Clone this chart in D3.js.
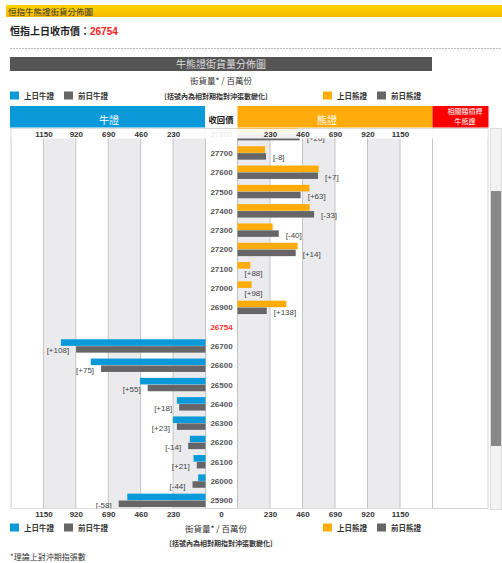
<!DOCTYPE html>
<html>
<head>
<meta charset="utf-8">
<script src="https://cdn.jsdelivr.net/npm/d3@7"></script>
<style>
  body { margin: 0; background: #fff; }
  text { font-family: "Noto Sans CJK TC", "Liberation Sans", sans-serif; }
  .num { font-family: "Liberation Sans", Arial, sans-serif; }
</style>
</head>
<body>
<div id="chart"></div>
<script>
// data
let closePrice = 26754
let bearStrikes = [27800, 27700, 27600, 27500, 27400, 27300, 27200, 27100, 27000, 26900]
let bearToday = [430, 195, 575, 509, 511, 249, 426, 91, 100, 346]
let bearPrevDay = [440, 202, 570, 447, 542, 292, 412, 0, 0, 207]
let bearChange = ["+20", "-8", "+7", "+63", "-33", "-40", "+14", "+88", "+98", "+138"]
let bullStrikes = [26700, 26600, 26500, 26400, 26300, 26200, 26100, 26000, 25900]
let bullToday = [1026, 814, 465, 203, 231, 111, 85, 52, 555]
let bullPrevDay = [918, 741, 410, 187, 203, 123, 62, 92, 616]
let bullChange = ["+108", "+75", "+55", "+18", "+23", "-14", "+21", "-44", "-58"]
let tickVals = [230, 460, 690, 920, 1150]
let maxVal = 1380

let blue = "#0a9ad9", orange = "#ffac0a", grey = "#666669", band = "#ebebee"

var width = 502, height = 563
var svg = d3.select("#chart").append("svg")
    .attr("width", width).attr("height", height)

// top title strip
var grad = svg.append("defs").append("linearGradient")
    .attr("id", "yel").attr("x1", 0).attr("x2", 0).attr("y1", 0).attr("y2", 1)
grad.append("stop").attr("offset", "0%").attr("stop-color", "#ffd400")
grad.append("stop").attr("offset", "100%").attr("stop-color", "#f2b800")
svg.append("rect").attr("x", 6).attr("y", 5).attr("width", 496).attr("height", 12).attr("fill", "url(#yel)")
svg.append("text").attr("x", 8).attr("y", 14.5).attr("font-size", 8.5).attr("fill", "#333")
    .text("恒指牛熊證街貨分佈圖")

var t = svg.append("text").attr("x", 10).attr("y", 35).attr("font-size", 10).attr("font-weight", "bold").attr("fill", "#222")
t.append("tspan").text("恒指上日收市價：")
t.append("tspan").attr("class", "num").attr("fill", "#ff2020").text(closePrice)

svg.append("line").attr("x1", 10).attr("x2", 502).attr("y1", 48.5).attr("y2", 48.5)
    .attr("stroke", "#bbb").attr("stroke-dasharray", "2,1")

// banner
svg.append("rect").attr("x", 10).attr("y", 57).attr("width", 422).attr("height", 14).attr("fill", "#555")
svg.append("text").attr("x", 221).attr("y", 67.5).attr("text-anchor", "middle").attr("font-size", 10)
    .attr("fill", "#ddd").text("牛熊證街貨量分佈圖")

function legendRow(yPos) {
    let items = [[10, blue, "上日牛證"], [64, grey, "前日牛證"], [323, orange, "上日熊證"], [377, grey, "前日熊證"]]
    items.forEach(d => {
        svg.append("rect").attr("x", d[0]).attr("y", yPos - 4.5).attr("width", 9).attr("height", 8).attr("fill", d[1])
        svg.append("text").attr("x", d[0] + 14).attr("y", yPos + 2.5).attr("font-size", 7.5)
            .attr("font-weight", "bold").attr("fill", "#333").text(d[2])
    })
}
svg.append("text").attr("x", 221).attr("y", 84).attr("text-anchor", "middle").attr("font-size", 8.5)
    .attr("fill", "#333").text("街貨量* / 百萬份")
legendRow(96)
svg.append("text").attr("x", 216).attr("y", 98.5).attr("text-anchor", "middle").attr("font-size", 7)
    .attr("font-weight", "bold").attr("fill", "#333").text("[括號內為相對期指對沖張數變化]")

// header boxes
svg.append("rect").attr("x", 10).attr("y", 106).attr("width", 195).attr("height", 21.5).attr("fill", blue)
svg.append("text").attr("x", 109).attr("y", 124).attr("text-anchor", "middle").attr("font-size", 10).attr("fill", "#fff").text("牛證")
svg.append("text").attr("x", 221).attr("y", 123).attr("text-anchor", "middle").attr("font-size", 8.3)
    .attr("font-weight", "bold").attr("fill", "#222").text("收回價")
svg.append("rect").attr("x", 237.5).attr("y", 106).attr("width", 195).attr("height", 21.5).attr("fill", orange)
svg.append("text").attr("x", 327).attr("y", 124).attr("text-anchor", "middle").attr("font-size", 10).attr("fill", "#fff").text("熊證")
svg.append("rect").attr("x", 432.5).attr("y", 106).attr("width", 56).attr("height", 21.5).attr("fill", "#ff0000")
svg.append("text").attr("x", 465).attr("y", 114).attr("text-anchor", "middle").attr("font-size", 7).attr("fill", "#fff").text("相關類槓桿")
svg.append("text").attr("x", 465).attr("y", 124).attr("text-anchor", "middle").attr("font-size", 7).attr("fill", "#fff").text("牛熊證")

// scales
let rows = bearStrikes.concat([closePrice], bullStrikes)
var y = d3.scaleBand().domain(rows).range([124, 510])
var xBull = d3.scaleLinear().domain([0, maxVal]).range([205.5, 11])
var xBear = d3.scaleLinear().domain([0, maxVal]).range([237.5, 432.5])
let mid = d => y(d) + y.bandwidth() / 2

// plot frame
let plotTop = 128.5, plotBottom = 508.5
svg.append("rect").attr("x", 11).attr("y", plotTop).attr("width", 477).attr("height", plotBottom - plotTop)
    .attr("fill", "#fff").attr("stroke", "#d6d6d6")

svg.append("clipPath").attr("id", "clip").append("rect")
    .attr("x", 11).attr("y", plotTop).attr("width", 477).attr("height", plotBottom - plotTop)
var g = svg.append("g").attr("clip-path", "url(#clip)")

// alternating bands
let steps = d3.range(0, maxVal, 230)
steps.forEach((v, i) => {
    g.append("rect").attr("x", xBull(v + 230)).attr("y", plotTop).attr("width", xBull(v) - xBull(v + 230))
        .attr("height", plotBottom - plotTop).attr("fill", i % 2 == 0 ? band : "#fff")
    g.append("rect").attr("x", xBear(v)).attr("y", plotTop).attr("width", xBear(v + 230) - xBear(v))
        .attr("height", plotBottom - plotTop).attr("fill", i % 2 == 0 ? band : "#fff")
})
steps.concat([maxVal]).forEach(v => {
    g.append("line").attr("x1", xBull(v)).attr("x2", xBull(v)).attr("y1", plotTop).attr("y2", plotBottom).attr("stroke", "#c4c4c4")
    g.append("line").attr("x1", xBear(v)).attr("x2", xBear(v)).attr("y1", plotTop).attr("y2", plotBottom).attr("stroke", "#c4c4c4")
})

// bear bars
g.selectAll(".bearNow").data(bearStrikes).enter().append("rect")
    .attr("x", xBear(0)).attr("y", d => mid(d) - 6.7)
    .attr("width", (d, i) => xBear(bearToday[i]) - xBear(0)).attr("height", 6.6).attr("fill", orange)
g.selectAll(".bearPrev").data(bearStrikes).enter().append("rect")
    .attr("x", xBear(0)).attr("y", d => mid(d) + 0.2)
    .attr("width", (d, i) => xBear(bearPrevDay[i]) - xBear(0)).attr("height", 6.5).attr("fill", grey)
g.selectAll(".bearLbl").data(bearStrikes).enter().append("text")
    .attr("class", "num").attr("x", (d, i) => xBear(bearPrevDay[i]) + 7).attr("y", d => mid(d) + 7.5)
    .attr("font-size", 8).attr("fill", "#444")
    .text((d, i) => "[" + bearChange[i] + "]")

// bull bars
g.selectAll(".bullNow").data(bullStrikes).enter().append("rect")
    .attr("x", (d, i) => xBull(bullToday[i])).attr("y", d => mid(d) - 6.7)
    .attr("width", (d, i) => xBull(0) - xBull(bullToday[i])).attr("height", 6.6).attr("fill", blue)
g.selectAll(".bullPrev").data(bullStrikes).enter().append("rect")
    .attr("x", (d, i) => xBull(bullPrevDay[i])).attr("y", d => mid(d) + 0.2)
    .attr("width", (d, i) => xBull(0) - xBull(bullPrevDay[i])).attr("height", 6.5).attr("fill", grey)
g.selectAll(".bullLbl").data(bullStrikes).enter().append("text")
    .attr("class", "num").attr("x", (d, i) => xBull(bullPrevDay[i]) - 7).attr("y", d => mid(d) + 7.5)
    .attr("text-anchor", "end").attr("font-size", 8).attr("fill", "#444")
    .text((d, i) => "[" + bullChange[i] + "]")

// strike labels
g.selectAll(".strike").data(rows).enter().append("text")
    .attr("class", "num").attr("x", 221.5).attr("y", d => mid(d) + 3)
    .attr("text-anchor", "middle").attr("font-size", 8).attr("font-weight", "bold")
    .attr("fill", d => d == closePrice ? "#ff3030" : "#555")
    .text(d => d)

// top sticky axis strip (content scrolled under it)
svg.append("rect").attr("x", 11.5).attr("y", plotTop + 0.5).attr("width", 476).attr("height", 9.5)
    .attr("fill", "#fff").attr("opacity", 0.9)

function drawAxis(yPos, withZero) {
    var a1 = svg.append("g").attr("transform", "translate(0," + yPos + ")")
        .call(d3.axisBottom(xBull).tickValues(tickVals).tickFormat(d3.format("d")).tickSize(0).tickPadding(0))
    var a2 = svg.append("g").attr("transform", "translate(0," + yPos + ")")
        .call(d3.axisBottom(xBear).tickValues(tickVals).tickFormat(d3.format("d")).tickSize(0).tickPadding(0))
    ;[a1, a2].forEach(a => {
        a.select(".domain").remove()
        a.selectAll("text").attr("class", "num").attr("font-size", 8).attr("font-weight", "bold")
            .attr("fill", "#333").attr("dy", 0).attr("y", 3)
    })
    if (withZero) {
        svg.append("text").attr("class", "num").attr("x", 221.5).attr("y", yPos + 3).attr("text-anchor", "middle")
            .attr("font-size", 8).attr("font-weight", "bold").attr("fill", "#333").text(0)
    }
}
drawAxis(134, false)
drawAxis(514, true)

// scrollbar
svg.append("rect").attr("x", 490.5).attr("y", 128.5).attr("width", 11).attr("height", 381)
    .attr("fill", "#f3f3f3").attr("stroke", "#dcdcdc")
svg.append("rect").attr("x", 491).attr("y", 191).attr("width", 10).attr("height", 255).attr("fill", "#888")

// bottom legend + notes
legendRow(528)
svg.append("text").attr("x", 216).attr("y", 532).attr("text-anchor", "middle").attr("font-size", 8.5)
    .attr("fill", "#333").text("街貨量* / 百萬份")
svg.append("text").attr("x", 221).attr("y", 546).attr("text-anchor", "middle").attr("font-size", 7)
    .attr("font-weight", "bold").attr("fill", "#333").text("[括號內為相對期指對沖張數變化]")
svg.append("text").attr("x", 10).attr("y", 560).attr("font-size", 8).attr("fill", "#333")
    .text("*理論上對沖期指張數")
</script>
</body>
</html>
